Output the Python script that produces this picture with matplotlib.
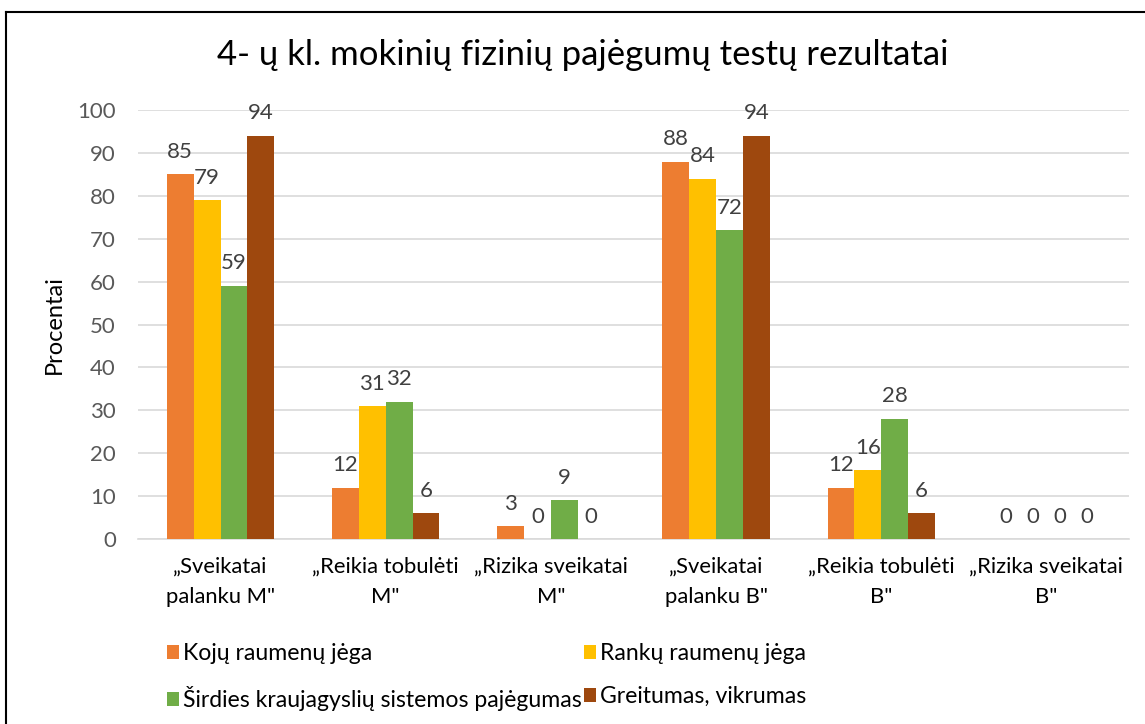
import matplotlib
matplotlib.use("Agg")
import matplotlib.pyplot as plt
from matplotlib.lines import Line2D
from matplotlib.patches import Patch
import numpy as np

plt.rcParams['font.family'] = ['Lato', 'DejaVu Sans']

categories = ['„Sveikatai\npalanku M"', '„Reikia tobulėti\nM"', '„Rizika sveikatai\nM"',
              '„Sveikatai\npalanku B"', '„Reikia tobulėti\nB"', '„Rizika sveikatai\nB"']
series_names = ['Kojų raumenų jėga', 'Rankų raumenų jėga',
                'Širdies kraujagyslių sistemos pajėgumas', 'Greitumas, vikrumas']
kojos = [85, 12, 3, 88, 12, 0]
rankos = [79, 31, 0, 84, 16, 0]
sirdis = [59, 32, 9, 72, 28, 0]
greitumas = [94, 6, 0, 94, 6, 0]
colors = ['#ED7D31', '#FFC000', '#70AD47', '#9E480E']

fig = plt.figure(figsize=(11.45, 7.24), dpi=100)
ax = fig.add_axes([0.1205, 0.2555, 0.8655, 0.5925])

x = np.arange(len(categories))
w = 0.1625
data = [kojos, rankos, sirdis, greitumas]
handles = []
for i, (vals, c) in enumerate(zip(data, colors)):
    bars = ax.bar(x + (i - 1.5) * w, vals, w, color=c, zorder=3)
    ax.bar_label(bars, padding=9, fontsize=16, color='#404040')
    handles.append(Patch(facecolor=c, edgecolor='none'))

ax.set_xlim(-0.5, len(categories) - 0.5)
ax.set_ylim(0, 100)
ax.set_yticks(range(0, 101, 10))
ax.set_xticks(x)
ax.set_xticklabels(categories, fontsize=15.8, color='#000000', linespacing=1.6)
ax.tick_params(axis='y', labelsize=16, labelcolor='#595959', length=0, pad=16)
ax.tick_params(axis='x', length=0, pad=13)
ax.grid(axis='y', color='#D9D9D9', linewidth=1.2, zorder=0)
for s in ['top', 'right', 'left']:
    ax.spines[s].set_visible(False)
ax.spines['bottom'].set_color('#D9D9D9')
ax.spines['bottom'].set_linewidth(1.2)
ax.set_ylabel('Procentai', fontsize=17, color='#000000', labelpad=9)

fig.text(0.509, 0.924, '4- ų kl. mokinių fizinių pajėgumų testų rezultatai',
         ha='center', va='center', fontsize=25, color='#000000')

# legend fills column by column, so order gives row-wise layout
order = [0, 2, 1, 3]
fig.legend([handles[k] for k in order], [series_names[k] for k in order],
           loc='upper left', bbox_to_anchor=(0.1354, 0.128), borderpad=0,
           ncol=2, frameon=False, fontsize=16.6, handlelength=0.55, handleheight=0.55,
           handletextpad=0.15, columnspacing=0.1, labelspacing=0.95)

fig.add_artist(Line2D([0.005, 0.005], [0.0, 0.984], transform=fig.transFigure, color='black', lw=1.5))
fig.add_artist(Line2D([0.005, 1.0], [0.984, 0.984], transform=fig.transFigure, color='black', lw=1.5))

fig.savefig('out.png', dpi=100)
